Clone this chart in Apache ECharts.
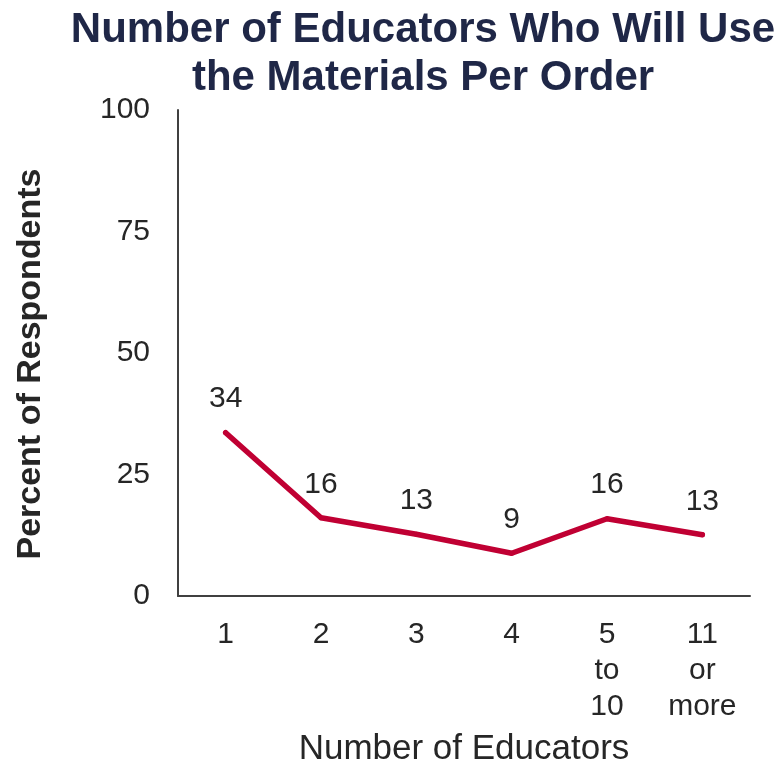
<!DOCTYPE html>
<html>
<head>
<meta charset="utf-8">
<script src="https://cdn.jsdelivr.net/npm/echarts@6/dist/echarts.min.js"></script>
<style>html,body{margin:0;padding:0;background:#fff}#c{width:777px;height:770px}</style>
</head>
<body>
<div id="c"></div>
<script>
const categories = ["1", "2", "3", "4", "5\nto\n10", "11\nor\nmore"];
const values = [33.6, 16.1, 12.7, 8.8, 15.9, 12.6];
const yTicks = [0, 25, 50, 75, 100];
const titleText = "Number of Educators Who Will Use\nthe Materials Per Order";

const chart = echarts.init(document.getElementById('c'));
chart.setOption({
  animation: false,
  title: {
    text: titleText,
    left: 418, top: 1, textAlign: 'center',
    textStyle: { fontFamily: 'Liberation Sans', fontWeight: 'bold', fontSize: 42, color: '#1f2747', lineHeight: 48 }
  },
  grid: { left: 178, right: 27, top: 110, bottom: 174, outerBoundsMode: 'none', containLabel: false },
  xAxis: {
    type: 'category', data: categories, boundaryGap: true,
    axisLine: { lineStyle: { color: '#404040', width: 2 } },
    axisTick: { show: false },
    axisLabel: { fontFamily: 'Liberation Sans', fontSize: 30, color: '#262626', lineHeight: 36, margin: 21 },
    name: 'Number of Educators', nameLocation: 'middle', nameGap: 136,
    nameTextStyle: { fontFamily: 'Liberation Sans', fontSize: 35, color: '#262626' }
  },
  yAxis: {
    type: 'value', min: yTicks[0], max: yTicks[yTicks.length - 1], interval: 25,
    axisLine: { show: true, lineStyle: { color: '#404040', width: 2 } },
    axisTick: { show: false }, splitLine: { show: false },
    axisLabel: { fontFamily: 'Liberation Sans', fontSize: 30, color: '#262626', margin: 28 },
    name: 'Percent of Respondents', nameLocation: 'middle', nameGap: 130, nameRotate: 90,
    nameTextStyle: { fontFamily: 'Liberation Sans', fontWeight: 'bold', fontSize: 34, color: '#262626', padding: [0, 22, 0, 0] }
  },
  series: [{
    type: 'line', data: values, symbol: 'circle', symbolSize: 5, showSymbol: true,
    itemStyle: { color: '#c00033', borderWidth: 0 },
    lineStyle: { color: '#c00033', width: 5.5, cap: 'round', join: 'round' },
    label: { show: true, position: 'top', distance: 16, fontFamily: 'Liberation Sans', fontSize: 30, color: '#262626',
      formatter: p => String(Math.round(p.value)) }
  }]
});
</script>
</body>
</html>
